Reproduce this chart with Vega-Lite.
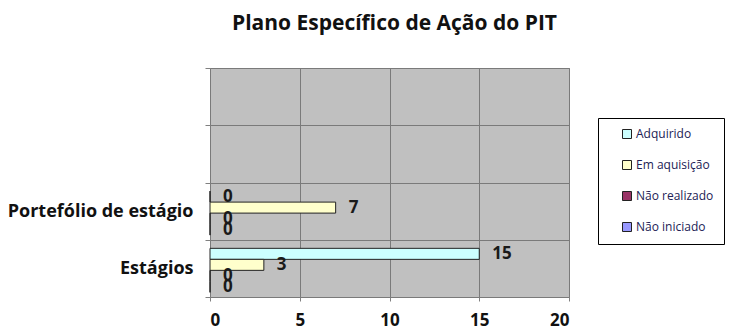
{
  "$schema": "https://vega.github.io/schema/vega-lite/v6.json",
  "width": 359,
  "height": 229,
  "autosize": {"type": "none"},
  "padding": {"left": 210, "top": 68, "right": 171, "bottom": 34},
  "background": "white",
  "title": {
    "text": "Plano Específico de Ação do PIT",
    "font": "Open Sans",
    "fontSize": 21,
    "fontWeight": "bold",
    "color": "#111111",
    "anchor": "middle",
    "offset": 25,
    "dx": 5
  },
  "config": {
    "view": {"fill": "#c0c0c0", "stroke": "#808080", "strokeWidth": 1},
    "axis": {"labelFont": "Open Sans", "labelFontWeight": "bold", "labelColor": "#111111", "gridColor": "#7a7a7a", "gridOpacity": 1, "domainColor": "#808080", "tickColor": "#808080"}
  },
  "data": {
    "values": [
      {"categoria": "Portefólio de estágio", "estado": "Adquirido", "valor": 0},
      {"categoria": "Portefólio de estágio", "estado": "Em aquisição", "valor": 7},
      {"categoria": "Portefólio de estágio", "estado": "Não realizado", "valor": 0},
      {"categoria": "Portefólio de estágio", "estado": "Não iniciado", "valor": 0},
      {"categoria": "Estágios", "estado": "Adquirido", "valor": 15},
      {"categoria": "Estágios", "estado": "Em aquisição", "valor": 3},
      {"categoria": "Estágios", "estado": "Não realizado", "valor": 0},
      {"categoria": "Estágios", "estado": "Não iniciado", "valor": 0}
    ]
  },
  "encoding": {
    "y": {
      "field": "categoria",
      "type": "nominal",
      "scale": {"domain": ["c1", "c2", "Portefólio de estágio", "Estágios"], "paddingInner": 0, "paddingOuter": 0},
      "axis": {
        "title": null,
        "labelExpr": "datum.value == 'c1' || datum.value == 'c2' ? '' : datum.value",
        "labelFontSize": 18,
        "labelPadding": 12,
        "labelLimit": 300,
        "tickBand": "extent",
        "grid": true,
        "tickSize": 5,
        "domain": false
      }
    },
    "yOffset": {
      "field": "estado",
      "type": "nominal",
      "scale": {"domain": ["Adquirido", "Em aquisição", "Não realizado", "Não iniciado"], "paddingInner": 0, "paddingOuter": 0.6, "align": 0.65}
    },
    "x": {
      "field": "valor",
      "type": "quantitative",
      "scale": {"domain": [0, 20], "nice": false},
      "axis": {
        "title": null,
        "values": [0, 5, 10, 15, 20],
        "labelFontSize": 17,
        "labelPadding": 11,
        "tickSize": 4,
        "grid": true,
        "domain": false
      }
    }
  },
  "layer": [
    {
      "mark": {"type": "bar", "stroke": "#222222", "strokeWidth": 1},
      "encoding": {
        "color": {
          "field": "estado",
          "type": "nominal",
          "scale": {"domain": ["Adquirido", "Em aquisição", "Não realizado", "Não iniciado"], "range": ["#ccffff", "#ffffcc", "#993366", "#9999ff"]},
          "legend": {
            "title": null,
            "orient": "none",
            "legendX": 388,
            "legendY": 50,
            "direction": "vertical",
            "strokeColor": "#000000",
            "fillColor": "white",
            "padding": 10,
            "rowPadding": 17,
            "symbolType": "square",
            "symbolSize": 81,
            "symbolOffset": 13,
            "symbolStrokeColor": "#222222",
            "symbolStrokeWidth": 1,
            "labelFont": "Open Sans",
            "labelFontSize": 12,
            "labelColor": "#222255",
            "labelOffset": 3
          }
        }
      }
    },
    {
      "mark": {"type": "text", "align": "left", "dx": 13, "font": "Open Sans", "fontSize": 17, "fontWeight": "bold", "color": "#1a1a1a"},
      "encoding": {"text": {"field": "valor", "type": "quantitative"}}
    }
  ]
}
